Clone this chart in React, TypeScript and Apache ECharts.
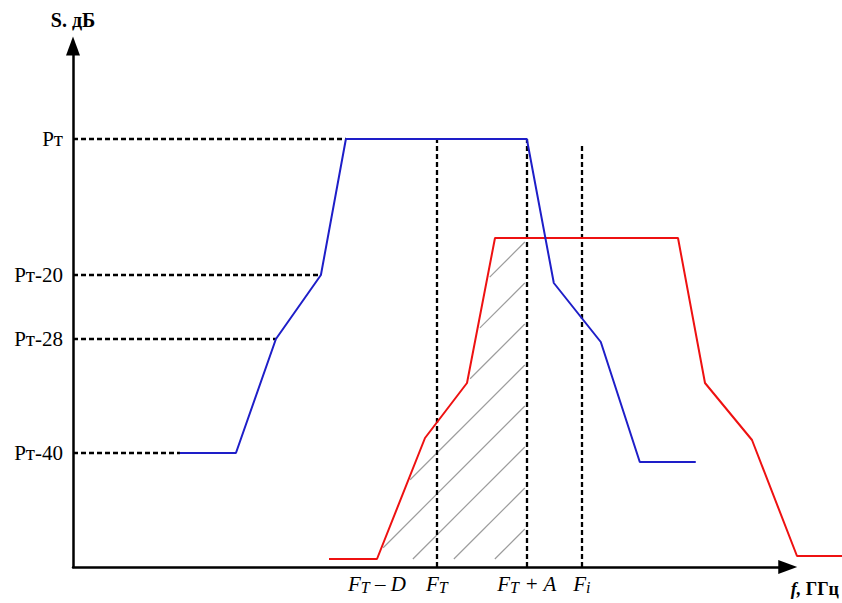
import React, { useEffect, useRef } from 'react';
import * as echarts from 'echarts';

// Curves (units: horizontal / vertical distance from the axes origin)
const blueX = [107, 163, 203, 248, 273, 454, 481, 528, 567, 623];
const blueY = [114, 114, 228, 292, 428, 428, 284, 225, 105, 105];
const redX = [256, 304, 352, 394, 422, 605, 632, 679, 724, 769];
const redY = [8, 8, 129, 184, 329, 329, 184, 127, 11, 11];

// Tick labels
const yTickValues = [114, 228, 292, 428];
const yTickLabels = ['Pт-40', 'Pт-28', 'Pт-20', 'Pт'];
const xTickValues = [304, 364, 454, 509];
const xTickMain = ['F', 'F', 'F', 'F'];
const xTickSub = ['T', 'T', 'T', 'i'];
const xTickRest = [' – D', '', ' + A', ''];

// Guide lines
const vGuideX = [364, 454, 509];
const vGuideTop = [428, 428, 424];
const hGuideY = [428, 292, 228, 114];
const hGuideEnd = [273, 248, 203, 107];

// Hatched zone: lines y = x + c
const hatchOffsets = [-127, -168, -209, -250, -291, -332, -373, -414];
const hatchBottom = 8;
const hatchTop = 329;
const hatchRight = 454;

const X_MAX = 715; // end of the drawn axis (arrow)
const X_MAX_WIDE = 769; // full width of the picture, same scale
const Y_MAX = 521;
const FONT = "'Liberation Serif', 'DejaVu Serif', serif";

function hatchSegments() {
  const pts = redX.slice(1, 5).map((x, i) => [x, redY[i + 1]]);
  const segs: number[][][] = [];
  hatchOffsets.forEach((c) => {
    let sx = hatchBottom - c;
    let sy = hatchBottom;
    if (sx < pts[0][0]) {
      for (let k = 0; k < pts.length - 1; k++) {
        const [x1, y1] = pts[k];
        const [x2, y2] = pts[k + 1];
        const g1 = y1 - x1 - c;
        const g2 = y2 - x2 - c;
        if (g1 * g2 <= 0 && g1 !== g2) {
          const t = g1 / (g1 - g2);
          sx = x1 + t * (x2 - x1) + 3;
          sy = y1 + t * (y2 - y1) + 3;
          break;
        }
      }
    }
    const ex = Math.min(hatchRight - 2, hatchTop - c);
    if (ex > sx) segs.push([[sx, sy], [ex, ex + c]]);
  });
  return segs;
}

export default function App() {
  const ref = useRef<HTMLDivElement>(null);
  useEffect(() => {
    if (!ref.current) return;
    const chart = echarts.init(ref.current, undefined, { renderer: 'svg' });
    const guides = [
      ...vGuideX.map((x, i) => ({ coords: [[x, 0], [x, vGuideTop[i]]] })),
      ...hGuideY.map((y, i) => ({ coords: [[0, y], [hGuideEnd[i], y]] })),
    ];
    const hatch = hatchSegments().map((s) => ({ coords: s }));
    const axisArrow = {
      show: true,
      lineStyle: { color: '#000', width: 2.5 },
      symbol: ['none', 'triangle'],
      symbolSize: [14, 19],
    };
    chart.setOption({
      animation: false,
      backgroundColor: '#fff',
      grid: [
        { left: 73, top: 46, right: 54, bottom: 36 },
        { left: 73, top: 46, right: 0, bottom: 36 },
      ],
      xAxis: [
        {
          type: 'value',
          gridIndex: 0,
          min: 0,
          max: X_MAX,
          splitLine: { show: false },
          axisTick: { show: false },
          axisLine: axisArrow,
          axisLabel: {
            customValues: xTickValues,
            margin: 5,
            formatter: (v: number) => {
              const i = xTickValues.indexOf(v);
              if (i < 0) return '';
              return `{m|${xTickMain[i]}}{s|${xTickSub[i]}}` + (xTickRest[i] ? `{m|${xTickRest[i]}}` : '');
            },
            rich: {
              m: { fontFamily: FONT, fontStyle: 'italic', fontSize: 21, color: '#000', lineHeight: 23 },
              s: { fontFamily: FONT, fontStyle: 'italic', fontSize: 16, color: '#000', lineHeight: 18, verticalAlign: 'bottom' },
            },
          },
          name: '{a|f,}{b| ГГц}',
          nameLocation: 'end',
          nameGap: 3,
          nameTextStyle: {
            align: 'left',
            verticalAlign: 'top',
            padding: [13, 0, 0, 0],
            rich: {
              a: { fontFamily: FONT, fontStyle: 'italic', fontWeight: 'bold', fontSize: 18, color: '#000' },
              b: { fontFamily: FONT, fontWeight: 'bold', fontSize: 18, color: '#000' },
            },
          },
        },
        {
          type: 'value',
          gridIndex: 1,
          min: 0,
          max: X_MAX_WIDE,
          show: false,
        },
      ],
      yAxis: [
        {
          type: 'value',
          gridIndex: 0,
          min: 0,
          max: Y_MAX,
          splitLine: { show: false },
          axisTick: { show: false },
          axisLine: axisArrow,
          axisLabel: {
            customValues: yTickValues,
            margin: 10,
            fontFamily: FONT,
            fontSize: 21,
            color: '#000',
            formatter: (v: number) => {
              const i = yTickValues.indexOf(v);
              return i < 0 ? '' : yTickLabels[i];
            },
          },
          name: 'S. дБ',
          nameLocation: 'end',
          nameGap: 26,
          nameTextStyle: {
            fontFamily: FONT,
            fontWeight: 'bold',
            fontSize: 20,
            color: '#000',
            align: 'center',
            verticalAlign: 'middle',
          },
        },
        {
          type: 'value',
          gridIndex: 1,
          min: 0,
          max: Y_MAX,
          show: false,
        },
      ],
      series: [
        {
          type: 'lines',
          coordinateSystem: 'cartesian2d',
          xAxisIndex: 0,
          yAxisIndex: 0,
          z: 1,
          silent: true,
          lineStyle: { color: '#9c9c9c', width: 1.2, opacity: 1 },
          data: hatch,
        },
        {
          type: 'lines',
          coordinateSystem: 'cartesian2d',
          xAxisIndex: 0,
          yAxisIndex: 0,
          z: 2,
          silent: true,
          lineStyle: { color: '#000', width: 2.3, type: [5, 3], opacity: 1 },
          data: guides,
        },
        {
          type: 'line',
          xAxisIndex: 1,
          yAxisIndex: 1,
          z: 3,
          symbol: 'none',
          lineStyle: { color: '#ee1111', width: 2 },
          data: redX.map((x, i) => [x, redY[i]]),
        },
        {
          type: 'line',
          xAxisIndex: 0,
          yAxisIndex: 0,
          z: 4,
          symbol: 'none',
          lineStyle: { color: '#1e1ec8', width: 2 },
          data: blueX.map((x, i) => [x, blueY[i]]),
        },
      ],
    });
    return () => chart.dispose();
  }, []);
  return (
    <div
      ref={ref}
      style={{ position: 'fixed', left: 0, top: 0, width: 842, height: 603, background: '#fff' }}
    />
  );
}
